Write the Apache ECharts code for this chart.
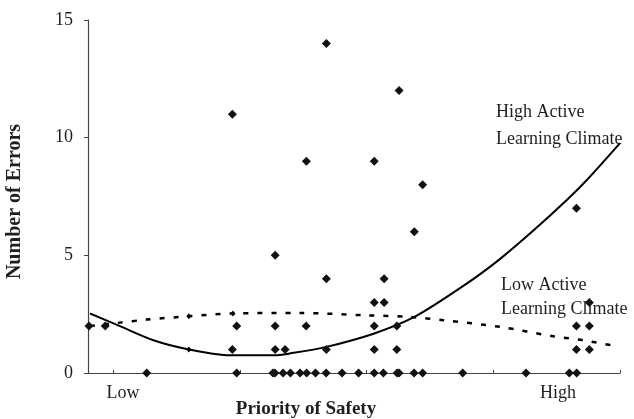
<!DOCTYPE html>
<html>
<head>
<meta charset="utf-8">
<script src="https://cdn.jsdelivr.net/npm/echarts@6/dist/echarts.min.js"></script>
<style>
  html, body { margin: 0; padding: 0; background: #fff; }
  #chart { width: 634px; height: 419px; }
</style>
</head>
<body>
<div id="chart"></div>
<script>
// observed errors (x = priority of safety, arbitrary scale low -> high)
const errorsX = [
  9.41, 12.28, 5.70, 8.62, 11.30, 13.21, 19.28, 12.88, 7.39, 9.41, 11.69, 11.30, 11.69, 19.79,
  0.04, 0.68, 5.87, 7.39, 8.61, 11.30, 12.19, 19.28, 19.79,
  5.70, 7.39, 7.78, 9.41, 11.30, 12.19, 19.28, 19.79,
  2.32, 5.87, 7.30, 7.38, 7.70, 7.99, 8.37, 8.63, 8.98, 9.40, 10.03,
  10.68, 11.30, 11.66, 12.20, 12.28, 12.87, 13.21, 14.79, 17.29, 19.00, 19.29
];
const errorsY = [
  14, 12, 11, 9, 9, 8, 7, 6, 5, 4, 4, 3, 3, 3,
  2, 2, 2, 2, 2, 2, 2, 2, 2,
  1, 1, 1, 1, 1, 1, 1, 1,
  0, 0, 0, 0, 0, 0, 0, 0, 0, 0, 0,
  0, 0, 0, 0, 0, 0, 0, 0, 0, 0, 0
];

// fitted curve, high active learning climate (solid)
const highFitX = [0.08, 1.26, 2.58, 3.98, 5.61, 7.34, 7.97, 9.41, 11.30, 12.88, 14.95, 16.27, 17.58, 18.90, 19.69, 21.0];
const highFitY = [2.53, 1.99, 1.39, 1.00, 0.75, 0.75, 0.83, 1.11, 1.68, 2.38, 3.80, 4.85, 6.05, 7.35, 8.20, 9.77];

// fitted curve, low active learning climate (dashed)
const lowFitX = [0.08, 1.18, 2.32, 3.98, 5.72, 8.37, 11.0, 12.71, 14.03, 16.27, 18.37, 19.55, 20.8];
const lowFitY = [2.00, 2.13, 2.27, 2.41, 2.53, 2.55, 2.45, 2.38, 2.24, 1.96, 1.56, 1.39, 1.15];

const yTicks = [0, 5, 10, 15];
const xTickValues = [1, 6, 11, 16, 21];
const xLabelValues = [1.38, 18.55];
const xLabelText = ['Low', 'High'];

const serif = "'Liberation Serif', 'Times New Roman', serif";
const ink = '#1f1f1f';

const chart = echarts.init(document.getElementById('chart'), null, { renderer: 'canvas' });

const zip = (xs, ys) => xs.map((x, i) => [x, ys[i]]);

chart.setOption({
  animation: false,
  backgroundColor: '#fff',
  grid: { left: 88, right: 14, top: 20, bottom: 46, outerBoundsMode: 'none' },
  xAxis: {
    type: 'value',
    min: 0,
    max: 21,
    name: 'Priority of Safety',
    nameLocation: 'middle',
    nameGap: 27,
    nameMoveOverlap: false,
    nameTextStyle: {
      fontFamily: serif, fontSize: 19, fontWeight: 'bold', color: ink,
      padding: [0, 96, 0, 0]
    },
    splitLine: { show: false },
    axisLine: { lineStyle: { color: '#444', width: 1.2 } },
    axisTick: {
      customValues: xTickValues,
      inside: true,
      length: 3,
      lineStyle: { color: '#444' }
    },
    axisLabel: {
      customValues: xLabelValues,
      formatter: v => (v < 10 ? xLabelText[0] : xLabelText[1]),
      fontFamily: serif, fontSize: 18, color: ink, margin: 11
    }
  },
  yAxis: {
    type: 'value',
    min: 0,
    max: 15,
    interval: 5,
    name: 'Number of Errors',
    nameLocation: 'middle',
    nameGap: 63,
    nameMoveOverlap: false,
    nameTextStyle: {
      fontFamily: serif, fontSize: 20, fontWeight: 'bold', color: ink,
      padding: [0, 10, 0, 0]
    },
    splitLine: { show: false },
    axisLine: { show: true, lineStyle: { color: '#444', width: 1.2 } },
    axisTick: { show: true, length: 4, lineStyle: { color: '#444' } },
    axisLabel: {
      fontFamily: serif, fontSize: 18, color: ink, margin: 15,
      formatter: v => (yTicks.includes(v) ? String(v) : '')
    }
  },
  graphic: [
    {
      type: 'text', left: 496, top: 99,
      style: {
        text: 'High Active\nLearning Climate',
        font: '18px ' + serif, fill: ink, lineHeight: 27
      }
    },
    {
      type: 'text', left: 501, top: 273,
      style: {
        text: 'Low Active\nLearning Climate',
        font: '18px ' + serif, fill: ink, lineHeight: 24
      }
    }
  ],
  series: [
    {
      type: 'line',
      data: zip(lowFitX, lowFitY).map((p, i) =>
        (i === 3 || i === 4) ? { value: p, symbol: 'diamond', symbolSize: [5, 6] } : { value: p }),
      symbol: 'none',
      showSymbol: true,
      smooth: 0.3,
      itemStyle: { color: '#000' },
      lineStyle: { color: '#000', width: 2.5, type: [5, 9] },
      z: 3
    },
    {
      type: 'line',
      data: zip(highFitX, highFitY).map((p, i) =>
        (i === 3) ? { value: p, symbol: 'diamond', symbolSize: [5, 6] } : { value: p }),
      symbol: 'none',
      showSymbol: true,
      smooth: 0.3,
      itemStyle: { color: '#000' },
      lineStyle: { color: '#000', width: 2 },
      z: 3
    },
    {
      type: 'scatter',
      data: zip(errorsX, errorsY),
      symbol: 'diamond',
      symbolSize: [9, 9],
      itemStyle: { color: '#111', opacity: 1 },
      z: 4
    }
  ]
});
</script>
</body>
</html>
